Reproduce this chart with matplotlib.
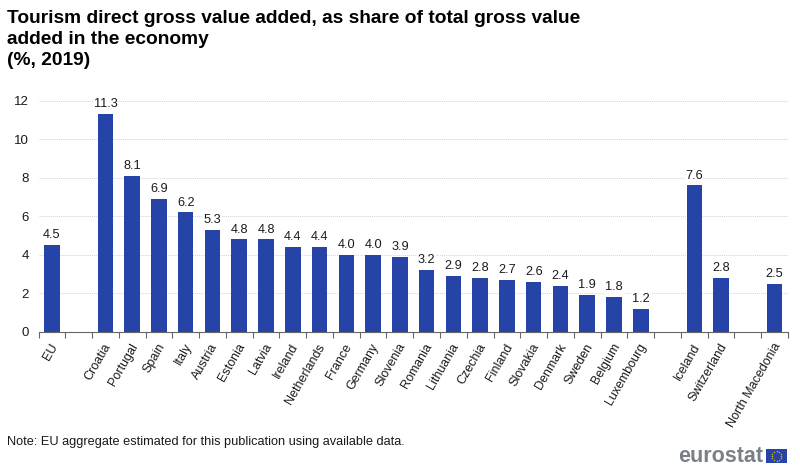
#!/usr/bin/env python3
# -*- coding: utf-8 -*-

import numpy as np
import matplotlib
matplotlib.use("Agg")
import matplotlib.pyplot as plt
from matplotlib.patches import Rectangle

plt.rcParams["font.family"] = ["Liberation Sans", "DejaVu Sans"]

# ===================== DATA =====================
countries = [
    "EU", "", "Croatia", "Portugal", "Spain", "Italy", "Austria", "Estonia",
    "Latvia", "Ireland", "Netherlands", "France", "Germany", "Slovenia",
    "Romania", "Lithuania", "Czechia", "Finland", "Slovakia", "Denmark",
    "Sweden", "Belgium", "Luxembourg", "", "Iceland", "Switzerland", "",
    "North Macedonia",
]
values = [
    4.5, None, 11.3, 8.1, 6.9, 6.2, 5.3, 4.8, 4.8, 4.4, 4.4, 4.0, 4.0, 3.9,
    3.2, 2.9, 2.8, 2.7, 2.6, 2.4, 1.9, 1.8, 1.2, None, 7.6, 2.8, None, 2.5,
]
y_ticks = [0, 2, 4, 6, 8, 10, 12]

title = ("Tourism direct gross value added, as share of total gross value\n"
         "added in the economy\n(%, 2019)")
note = "Note: EU aggregate estimated for this publication using available data."

# ===================== FIGURE =====================
W, H = 800, 470
fig = plt.figure(figsize=(W / 100, H / 100), dpi=100)
ax = fig.add_axes([38.5 / W, 1 - 332 / H, 749.5 / W, 231.5 / H])

pos = [i for i, v in enumerate(values) if v is not None]
vals = [v for v in values if v is not None]
ax.bar(pos, vals, width=0.58, color="#2644A7", zorder=3)

for x, v in zip(pos, vals):
    ax.text(x, v + 0.2, f"{v:.1f}", ha="center", va="bottom",
            fontsize=9.2, color="#1a1a1a", zorder=4,
            bbox=dict(facecolor="white", edgecolor="none", pad=0.6))

ax.set_xlim(-0.5, len(values) - 0.5)
ax.set_ylim(0, 12)
ax.set_yticks(y_ticks)
ax.grid(axis="y", color="#d4d4d4", linewidth=0.7, linestyle=(0, (1, 1)), zorder=0)
ax.set_axisbelow(True)

# ticks sit between the categories
ax.set_xticks(np.arange(-0.5, len(values)))
ax.set_xticklabels([])
ax.tick_params(axis="x", length=4, width=0.8, color="#666666")
ax.tick_params(axis="y", length=0, labelsize=9.5, pad=7, labelcolor="#1a1a1a")

for s in ["top", "right", "left"]:
    ax.spines[s].set_visible(False)
ax.spines["bottom"].set_color("#666666")
ax.spines["bottom"].set_linewidth(0.8)

# category labels, rotated and ending under the bar
trans = ax.get_xaxis_transform()
for i, name in enumerate(countries):
    if name:
        ax.text(i - 0.08, -0.04, name, transform=trans, rotation=60,
                ha="right", va="top", rotation_mode="anchor",
                fontsize=9.0, color="#1a1a1a")

# ===================== TITLE + NOTE =====================
fig.text(7 / W, 1 - 10 / H, title, ha="left", va="top", fontsize=13.8,
         fontweight="bold", color="black", linespacing=1.32)
fig.text(7 / W, 1 - 441.5 / H, note, ha="left", va="center", fontsize=9.15,
         color="#1a1a1a")

# ===================== LOGO =====================
fig.text(763 / W, 1 - 456.5 / H, "eurostat", ha="right", va="center",
         fontsize=15.5, fontweight="bold", color="#7b8088")

flag = fig.add_axes([766 / W, 1 - 463 / H, 21 / W, 14 / H])
flag.set_xlim(-1.5, 1.5)
flag.set_ylim(-1, 1)
flag.axis("off")
flag.add_patch(Rectangle((-1.5, -1), 3, 2, color="#2644A7"))
star_angles = np.deg2rad(np.arange(0, 360, 30))
flag.scatter(0.66 * np.cos(star_angles), 0.66 * np.sin(star_angles),
             s=1.2, color="#C9B23A", linewidths=0)

fig.savefig("out.png", dpi=100)
